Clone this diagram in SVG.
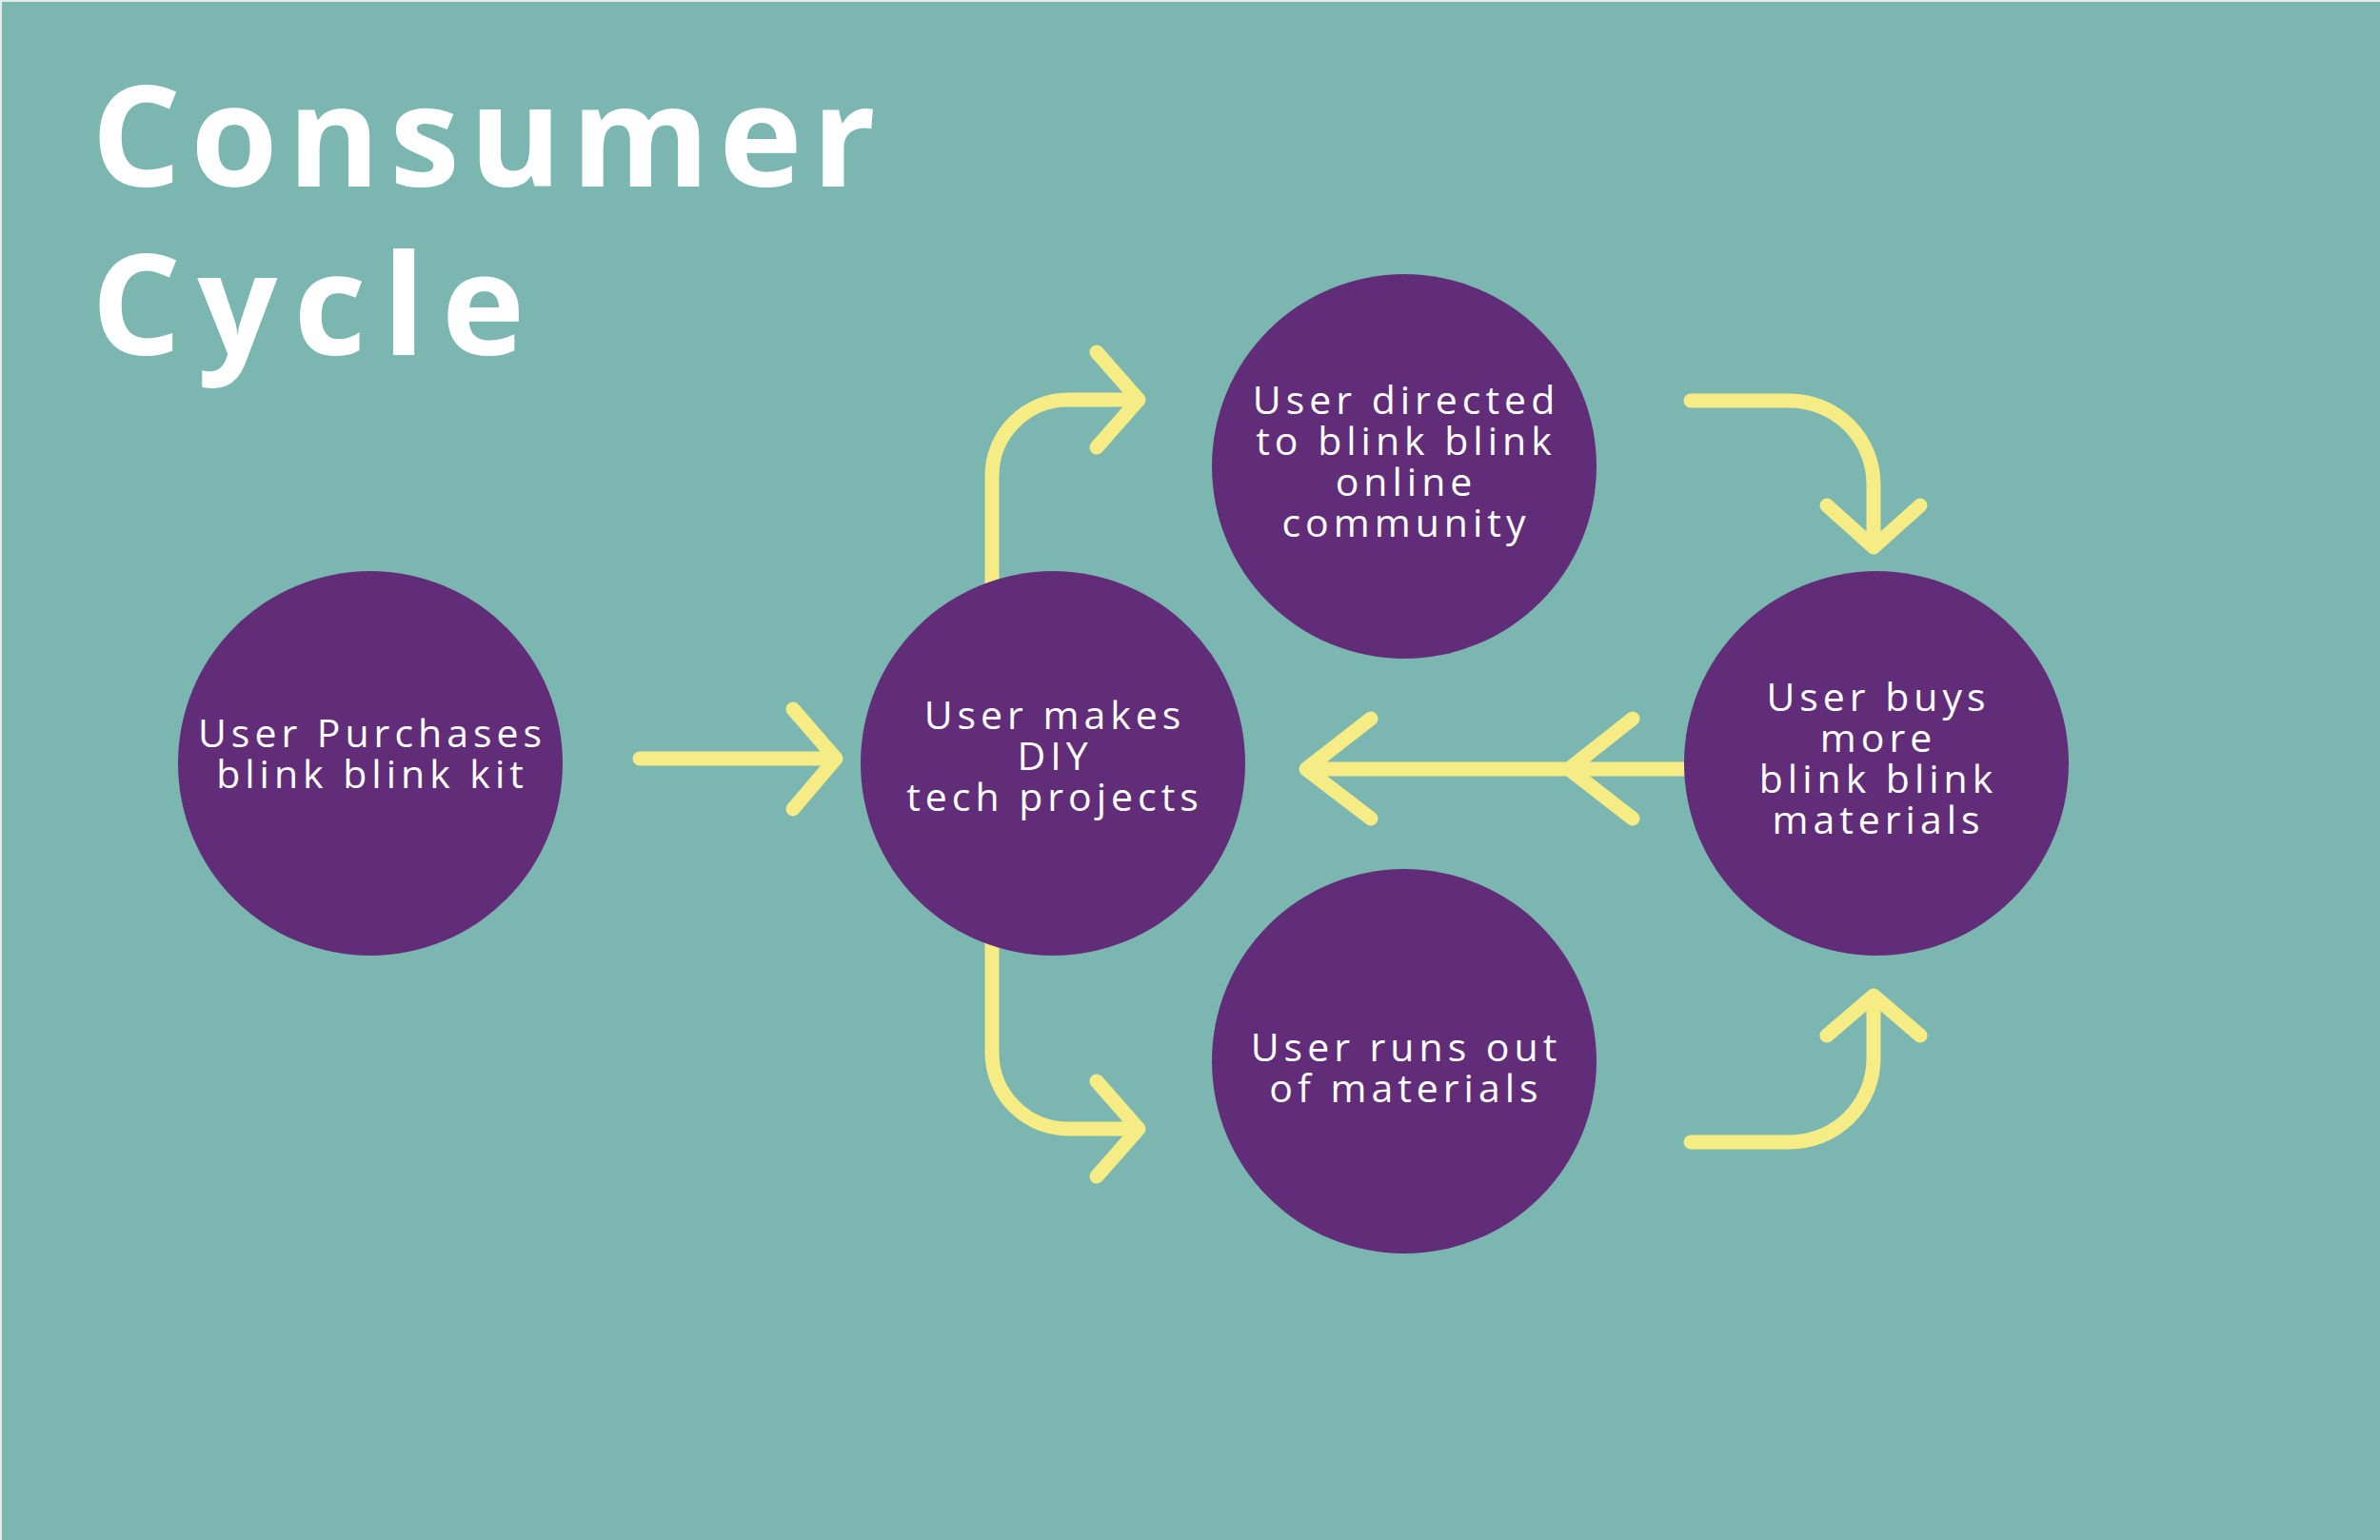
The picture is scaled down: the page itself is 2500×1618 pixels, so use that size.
<svg xmlns="http://www.w3.org/2000/svg" width="2500" height="1618" viewBox="0 0 2500 1618">
  <style>
    .bg { fill: #7BB6B1; }
    .node { fill: #622D78; }
    .label { fill: #FFFFFF; font-family: "Open Sans", "Liberation Sans", sans-serif; font-size: 41px; letter-spacing: 5px; text-anchor: middle; }
    .title { fill: #FFFFFF; font-family: "Open Sans", "Liberation Sans", sans-serif; font-size: 148px; font-weight: 700; letter-spacing: 10px; }
    .conn { fill: none; stroke: #F5EC86; stroke-width: 15; stroke-linecap: round; stroke-linejoin: round; }
  </style>
  <rect class="bg" x="0" y="0" width="2500" height="1618"/>
  <rect x="0" y="0" width="2500" height="2" fill="#E6ECEB"/>
  <rect x="0" y="0" width="2" height="1618" fill="#E6ECEB"/>

  <g id="title">
    <text class="title" x="96" y="196">Consumer</text>
    <text class="title" x="96" y="373" style="letter-spacing:17px">Cycle</text>
  </g>

  <g id="connectors">
    <path class="conn" d="M672,797 H878 M833,745 L878,797 L833,850"/>
    <path class="conn" d="M1042,640 V500 A80,80 0 0 1 1122,420 H1196 M1152,370 L1196,420 L1152,470"/>
    <path class="conn" d="M1042,970 V1106 A80,80 0 0 0 1122,1186 H1196 M1152,1136 L1196,1186 L1152,1236"/>
    <path class="conn" d="M1776,421 H1880 A88,88 0 0 1 1968,509 V575 M1919,531 L1968,575 L2017,531"/>
    <path class="conn" d="M1776,1200 H1880 A88,88 0 0 0 1968,1112 V1046 M1919,1088 L1968,1046 L2017,1088"/>
    <path class="conn" d="M1790,808 H1372 M1440,755 L1372,808 L1440,860 M1715,755 L1648,808 L1715,860"/>
  </g>

  <g id="node-purchase">
    <circle class="node" cx="389" cy="802" r="202"/>
    <text class="label" x="391" y="785">User Purchases</text>
    <text class="label" x="391" y="828">blink blink kit</text>
  </g>
  <g id="node-diy">
    <circle class="node" cx="1106" cy="802" r="202"/>
    <text class="label" x="1108" y="766">User makes</text>
    <text class="label" x="1108" y="809">DIY</text>
    <text class="label" x="1108" y="852">tech projects</text>
  </g>
  <g id="node-community">
    <circle class="node" cx="1475" cy="490" r="202"/>
    <text class="label" x="1477" y="435">User directed</text>
    <text class="label" x="1477" y="478">to blink blink</text>
    <text class="label" x="1477" y="521">online</text>
    <text class="label" x="1477" y="564">community</text>
  </g>
  <g id="node-runs-out">
    <circle class="node" cx="1475" cy="1115" r="202"/>
    <text class="label" x="1477" y="1115">User runs out</text>
    <text class="label" x="1477" y="1158">of materials</text>
  </g>
  <g id="node-buys">
    <circle class="node" cx="1971" cy="802" r="202"/>
    <text class="label" x="1973" y="747">User buys</text>
    <text class="label" x="1973" y="790">more</text>
    <text class="label" x="1973" y="833">blink blink</text>
    <text class="label" x="1973" y="876">materials</text>
  </g>
</svg>
